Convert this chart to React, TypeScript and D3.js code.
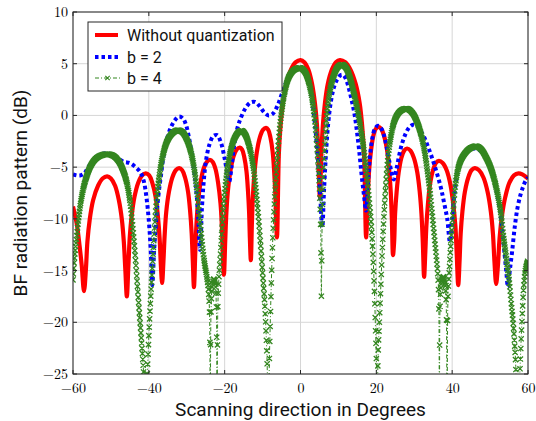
import React, { useEffect, useRef } from "react";
import * as d3 from "d3";

const X_TICKS = [-60, -40, -20, 0, 20, 40, 60];
const Y_TICKS = [-25, -20, -15, -10, -5, 0, 5, 10];
const SERIES_NAMES = ["Without quantization", "b = 2", "b = 4"];
const X_LABEL = "Scanning direction in Degrees";
const Y_LABEL = "BF radiation pattern (dB)";

// Without quantization
const RED: [number, number][] = [
  [-60, -8.8], [-59.0, -10.5], [-58.3, -12.5], [-57.7, -14.5], [-57.1, -17.0],
  [-56.6, -14.9], [-56.2, -12.2], [-55.6, -10.1], [-54.7, -8.2], [-53.4, -6.8], [-52.2, -6.1], [-51.0, -5.9],
  [-50.0, -6.1], [-48.9, -6.8], [-47.9, -8.2], [-47.1, -10.1], [-46.6, -12.2], [-46.2, -14.9], [-45.8, -17.5],
  [-45.4, -14.6], [-45.05, -11.9], [-44.55, -9.8], [-43.8, -7.9], [-42.8, -6.5], [-41.8, -5.8], [-40.8, -5.6],
  [-39.9, -5.8], [-39.1, -6.5], [-38.2, -7.9], [-37.6, -9.8], [-37.15, -11.9], [-36.85, -14.3], [-36.5, -16.2],
  [-36.15, -14.1], [-35.8, -11.4], [-35.4, -9.3], [-34.7, -7.4], [-33.8, -6.0], [-32.9, -5.3], [-32.0, -5.1],
  [-31.2, -5.3], [-30.45, -6.0], [-29.65, -7.4], [-29.1, -9.3], [-28.7, -11.4], [-28.4, -14.1], [-28.1, -16.6],
  [-27.75, -13.3], [-27.45, -10.6], [-27.05, -8.5], [-26.4, -6.6], [-25.6, -5.2], [-24.7, -4.5], [-23.9, -4.3],
  [-23.15, -4.5], [-22.4, -5.2], [-21.7, -6.6], [-21.1, -8.5], [-20.75, -10.6], [-20.5, -13.3], [-20.2, -15.4],
  [-19.85, -12.1], [-19.55, -9.4], [-19.15, -7.3], [-18.5, -5.4], [-17.7, -4.0], [-16.85, -3.3], [-16.0, -3.1],
  [-15.4, -3.3], [-14.85, -4.0], [-14.25, -5.4], [-13.85, -7.3], [-13.55, -9.4], [-13.35, -11.9], [-13.1, -14.0],
  [-12.8, -10.2], [-12.5, -7.5], [-12.1, -5.4], [-11.5, -3.5], [-10.7, -2.1], [-9.9, -1.4], [-9.1, -1.2],
  [-8.5, -1.4], [-7.95, -2.1], [-7.35, -3.5], [-6.95, -5.4], [-6.65, -7.5], [-6.45, -9.8], [-6.2, -11.8],
  [-5.7, -3.65], [-5.25, -0.95], [-4.65, 1.2], [-3.7, 3.05], [-2.5, 4.45], [-1.25, 5.15], [0, 5.35],
  [1.0, 5.15], [2.05, 4.45], [3.05, 3.05], [3.8, 1.2], [4.35, -0.95], [4.7, -3.65], [5.1, -7.9],
  [5.5, -3.65], [5.9, -0.95], [6.45, 1.2], [7.2, 3.05], [8.3, 4.45], [9.35, 5.15], [10.4, 5.35],
  [11.8, 5.15], [13.15, 4.45], [14.55, 3.05], [15.6, 1.2], [16.25, -0.95], [16.75, -3.65], [17.3, -11.8],
  [17.55, -10.1], [17.8, -7.4], [18.1, -5.3], [18.6, -3.4], [19.2, -2.0], [19.85, -1.3], [20.5, -1.1],
  [21.3, -1.3], [22.05, -2.0], [22.85, -3.4], [23.4, -5.3], [23.8, -7.4], [24.1, -10.1], [24.4, -13.5],
  [24.7, -12.2], [24.95, -9.5], [25.35, -7.4], [25.9, -5.5], [26.6, -4.1], [27.35, -3.4], [28.1, -3.2],
  [29.0, -3.4], [29.9, -4.1], [30.8, -5.5], [31.45, -7.4], [31.9, -9.5], [32.25, -12.2], [32.6, -15.6],
  [32.9, -13.4], [33.2, -10.7], [33.6, -8.6], [34.15, -6.7], [34.95, -5.3], [35.7, -4.6], [36.5, -4.4],
  [37.5, -4.6], [38.55, -5.3], [39.55, -6.7], [40.3, -8.6], [40.85, -10.7], [41.2, -13.4], [41.6, -16.4],
  [41.95, -14.1], [42.25, -11.4], [42.7, -9.3], [43.35, -7.4], [44.25, -6.0], [45.1, -5.3], [46.0, -5.1],
  [47.1, -5.3], [48.25, -6.0], [49.35, -7.4], [50.2, -9.3], [50.75, -11.4], [51.15, -14.1], [51.6, -16.3],
  [52.05, -14.6], [52.5, -11.9], [53.1, -9.8], [54.0, -7.9], [55.1, -6.5], [56.3, -5.8], [57.5, -5.6],
  [58.5, -5.7], [59.3, -5.9], [60, -6.1],
];

// b = 2
const BLUE: [number, number][] = [
  [-60, -5.7], [-59, -5.8], [-58, -5.8], [-57, -5.6], [-56, -5.0], [-55, -4.5], [-54, -4.1], [-52.5, -3.75],
  [-51, -3.65], [-49.5, -3.85], [-48, -4.2], [-46.5, -4.5], [-45, -4.6], [-43.5, -5.0], [-42.2, -5.5],
  [-41.3, -6.4], [-40.6, -8.0], [-40.0, -10.2], [-39.5, -13.0], [-39.1, -16.4], [-38.6, -13.0], [-38.0, -9.8],
  [-37.4, -7.5], [-36.8, -5.8], [-36.0, -3.6], [-35.0, -2.0], [-34.0, -1.0], [-33.0, -0.4], [-32.0, -0.1],
  [-31.0, -0.3], [-30.2, -0.9], [-29.5, -2.0], [-28.8, -3.4], [-28.1, -5.2], [-27.5, -7.2], [-27.0, -9.6],
  [-26.5, -13.0], [-26.0, -9.0], [-25.5, -6.3], [-24.9, -4.3], [-24.0, -2.8], [-23.0, -2.0], [-22.0, -1.9],
  [-21.0, -2.6], [-20.2, -3.8], [-19.5, -5.2], [-18.8, -6.4], [-18.2, -5.0], [-17.5, -2.9], [-16.7, -1.3],
  [-15.7, -0.2], [-14.5, 0.7], [-13.2, 1.25], [-12.0, 1.3], [-10.8, 0.9], [-9.6, 0.3], [-8.4, 0.0],
  [-7.2, 0.2], [-6.0, 1.0], [-5.0, 2.0], [-4.0, 3.0], [-3.0, 3.7], [-2.0, 4.2], [-1.0, 4.45], [0, 4.5],
  [1.0, 4.3], [2.0, 3.5], [2.8, 2.2], [3.5, 0.3], [4.1, -2.0], [4.7, -4.8], [5.2, -7.8], [5.75, -10.8],
  [6.2, -7.3], [6.7, -3.8], [7.3, -0.8], [8.0, 1.3], [8.8, 2.7], [9.7, 3.5], [10.6, 3.9], [11.3, 3.9],
  [12.1, 3.4], [12.9, 2.4], [13.6, 1.3], [14.3, 0.0], [14.9, -1.6], [15.5, -3.5], [16.1, -5.7], [16.7, -7.6],
  [17.3, -9.2], [17.8, -6.5], [18.3, -4.0], [18.9, -2.3], [19.6, -1.3], [20.4, -1.0], [21.2, -1.2],
  [22.0, -1.9], [22.7, -3.0], [23.4, -4.4], [24.0, -5.5], [24.6, -6.2], [25.3, -5.2], [26.0, -3.9],
  [26.8, -2.7], [27.8, -1.7], [28.8, -1.1], [29.7, -0.9], [30.6, -1.0], [31.5, -1.4], [32.5, -2.0],
  [33.5, -2.9], [34.5, -3.9], [35.4, -4.9], [36.3, -6.0], [37.1, -7.1], [37.9, -8.5], [38.7, -10.0],
  [39.4, -12.2], [40.0, -10.2], [40.6, -7.6], [41.3, -5.6], [42.2, -4.3], [43.3, -3.6], [44.6, -3.3],
  [46.0, -3.2], [47.4, -3.4], [48.7, -4.0], [49.8, -4.8], [50.8, -5.9], [51.7, -7.3], [52.5, -8.9],
  [53.2, -11.0], [53.8, -13.3], [54.3, -15.2], [54.7, -16.6], [55.2, -15.0], [55.8, -13.2], [56.5, -10.8],
  [57.2, -9.0], [58.0, -7.7], [58.8, -6.8], [59.4, -6.3], [60, -6.0],
];

// b = 4
const GREEN: [number, number][] = [
  [-60, -15.9], [-59.6, -13.8], [-59.1, -12.0], [-58.6, -10.2], [-58.0, -8.5], [-57.3, -7.1], [-56.5, -6.0],
  [-55.5, -5.0], [-54.3, -4.3], [-52.8, -3.9], [-51.0, -3.75], [-49.4, -3.9], [-48.0, -4.4], [-46.8, -5.3],
  [-45.8, -6.5], [-45.0, -8.2], [-44.4, -10.2], [-43.8, -12.6], [-43.2, -15.5], [-42.6, -18.6], [-42.0, -21.5],
  [-41.4, -24.8], [-40.9, -30], [-40.4, -25.0], [-40.0, -21.3], [-39.6, -18.2], [-39.1, -14.8], [-38.6, -11.5],
  [-38.1, -8.8], [-37.4, -6.3], [-36.5, -4.2], [-35.3, -2.6], [-34.0, -1.8], [-32.5, -1.45], [-31.2, -1.6],
  [-30.0, -2.3], [-29.0, -3.4], [-28.1, -5.0], [-27.3, -7.3], [-26.6, -9.9], [-25.9, -12.5], [-25.3, -14.3],
  [-24.7, -15.6], [-24.3, -16.8], [-24.0, -19], [-23.8, -30], [-23.6, -19], [-23.3, -16.6], [-22.9, -15.8],
  [-22.5, -16.3], [-22.2, -18.5], [-22.0, -30], [-21.8, -18.5], [-21.5, -15.6], [-21.1, -13.4], [-20.7, -10.9],
  [-20.2, -8.3], [-19.5, -5.8], [-18.6, -3.7], [-17.5, -2.3], [-16.3, -1.6], [-15.4, -1.5], [-14.5, -1.9],
  [-13.5, -3.0], [-12.6, -4.6], [-11.8, -7.0], [-11.1, -9.8], [-10.5, -12.6], [-10.0, -15.2], [-9.5, -17.8],
  [-9.1, -20.8], [-8.8, -24.0], [-8.5, -30], [-8.2, -23.5], [-7.95, -19.7], [-7.7, -16.2], [-7.4, -12.8],
  [-7.05, -9.7], [-6.6, -6.6], [-6.0, -3.4], [-5.3, -0.6], [-4.3, 2.0], [-3.2, 3.6], [-2.0, 4.3], [-0.8, 4.55],
  [0.2, 4.55], [1.2, 4.2], [2.2, 3.2], [3.1, 1.5], [3.8, -0.6], [4.3, -2.8], [4.8, -5.6], [5.15, -8.5],
  [5.35, -11.5], [5.5, -17.5], [5.7, -10.5], [6.0, -6.0], [6.4, -2.8], [7.0, 0.3], [7.8, 2.5], [8.8, 3.9],
  [9.9, 4.7], [11.0, 4.9], [12.0, 4.6], [13.0, 3.7], [14.0, 2.3], [15.0, 0.6], [15.9, -1.3], [16.8, -3.6],
  [17.6, -6.2], [18.3, -8.9], [18.8, -11.3], [19.2, -14.2], [19.5, -17.0], [19.75, -20.2], [20.0, -23.5],
  [20.2, -30], [20.45, -23.3], [20.8, -20.0], [21.15, -16.8], [21.5, -13.6], [21.9, -10.5], [22.4, -7.3],
  [23.0, -4.4], [23.8, -2.1], [24.8, -0.5], [26.0, 0.3], [27.2, 0.6], [28.4, 0.6], [29.6, 0.2], [30.7, -0.6],
  [31.7, -1.7], [32.6, -3.2], [33.3, -4.9], [34.0, -6.9], [34.6, -9.0], [35.2, -11.3], [35.8, -13.6],
  [36.2, -15.3], [36.45, -17.5], [36.65, -30], [36.9, -17.3], [37.3, -15.9], [37.7, -15.6], [38.1, -16.2],
  [38.4, -17.8], [38.65, -30], [38.9, -17.5], [39.3, -14.6], [39.7, -12.1], [40.2, -9.7], [40.7, -7.3],
  [41.3, -5.6], [42.1, -4.5], [43.1, -3.8], [44.3, -3.3], [45.5, -3.05], [46.5, -3.0], [47.7, -3.3],
  [49.0, -4.1], [50.0, -4.9], [50.9, -5.9], [51.7, -7.1], [52.4, -8.4], [53.0, -9.9], [53.5, -11.6],
  [54.0, -13.0], [54.5, -14.4], [55.1, -16.2], [55.6, -18.2], [56.1, -20.1], [56.45, -22.0], [56.75, -24.0],
  [57.2, -30], [57.9, -24.5], [58.2, -21.6], [58.55, -18.8], [58.9, -16.4], [59.4, -14.8], [60, -14.0],
];

const RED_C = "#ff0000";
const BLUE_C = "#0000ff";
const GREEN_C = "#33861f";
const SERIF = "'Latin Modern Roman', 'CMU Serif', 'Liberation Serif', serif";
const SANS = "Roboto, 'Noto Sans', sans-serif";

const W = 536;
const H = 421;
const PL = 73, PR = 528, PT = 12, PB = 374;

export default function App() {
  const ref = useRef<SVGSVGElement>(null);

  useEffect(() => {
    const svg = d3.select(ref.current);
    svg.selectAll("*").remove();
    const x = d3.scaleLinear().domain([-60, 60]).range([PL, PR]);
    const y = d3.scaleLinear().domain([-25, 10]).range([PB, PT]);

    svg.append("rect").attr("width", W).attr("height", H).attr("fill", "#fff");

    const defs = svg.append("defs");
    defs.append("clipPath").attr("id", "plotclip")
      .append("rect").attr("x", PL).attr("y", PT).attr("width", PR - PL).attr("height", PB - PT);

    // grid
    const grid = svg.append("g").attr("stroke", "#d6d6d6").attr("stroke-width", 1);
    X_TICKS.forEach((t) => grid.append("line").attr("x1", x(t)).attr("x2", x(t)).attr("y1", PT).attr("y2", PB));
    Y_TICKS.forEach((t) => grid.append("line").attr("x1", PL).attr("x2", PR).attr("y1", y(t)).attr("y2", y(t)));

    const plot = svg.append("g").attr("clip-path", "url(#plotclip)");
    const line = d3.line<[number, number]>()
      .x((d) => x(d[0])).y((d) => y(d[1]))
      .curve(d3.curveCatmullRom.alpha(0.5));

    plot.append("path").attr("d", line(RED)).attr("fill", "none")
      .attr("stroke", RED_C).attr("stroke-width", 4.2).attr("stroke-linejoin", "round");
    plot.append("path").attr("d", line(BLUE)).attr("fill", "none")
      .attr("stroke", BLUE_C).attr("stroke-width", 4).attr("stroke-dasharray", "3.5 3");
    const gp = plot.append("path").attr("d", line(GREEN)).attr("fill", "none")
      .attr("stroke", GREEN_C).attr("stroke-width", 1).attr("stroke-dasharray", "4 2 1 2");

    // markers at every sample step along the green curve
    const node = gp.node() as SVGPathElement;
    const L = node.getTotalLength();
    const stepPx = x(0.1) - x(0);
    let next = x(-60);
    const s = 2.6;
    let md = "";
    for (let l = 0; l <= L; l += 0.25) {
      const p = node.getPointAtLength(l);
      while (p.x >= next - 1e-6) {
        md += `M${p.x - s},${p.y - s}L${p.x + s},${p.y + s}M${p.x - s},${p.y + s}L${p.x + s},${p.y - s}`;
        next += stepPx;
      }
    }
    plot.append("path").attr("d", md).attr("fill", "none")
      .attr("stroke", GREEN_C).attr("stroke-width", 1.3);

    // frame
    svg.append("rect").attr("x", PL).attr("y", PT).attr("width", PR - PL).attr("height", PB - PT)
      .attr("fill", "none").attr("stroke", "#262626").attr("stroke-width", 1);
    const tk = svg.append("g").attr("stroke", "#262626").attr("stroke-width", 1);
    X_TICKS.forEach((t) => {
      tk.append("line").attr("x1", x(t)).attr("x2", x(t)).attr("y1", PB).attr("y2", PB - 4);
      tk.append("line").attr("x1", x(t)).attr("x2", x(t)).attr("y1", PT).attr("y2", PT + 4);
    });
    Y_TICKS.forEach((t) => {
      tk.append("line").attr("x1", PL).attr("x2", PL + 4).attr("y1", y(t)).attr("y2", y(t));
      tk.append("line").attr("x1", PR).attr("x2", PR - 4).attr("y1", y(t)).attr("y2", y(t));
    });

    // axes labels
    const gx = svg.append("g").attr("transform", `translate(0,${PB})`)
      .call(d3.axisBottom(x).tickValues(X_TICKS).tickSize(0).tickPadding(9));
    gx.select(".domain").remove();
    gx.selectAll("text").attr("font-family", SERIF).attr("font-size", 14).attr("fill", "#000");
    const gy = svg.append("g").attr("transform", `translate(${PL},0)`)
      .call(d3.axisLeft(y).tickValues(Y_TICKS).tickSize(0).tickPadding(5));
    gy.select(".domain").remove();
    gy.selectAll("text").attr("font-family", SERIF).attr("font-size", 14).attr("fill", "#000");

    svg.append("text").attr("x", (PL + PR) / 2).attr("y", 416).attr("text-anchor", "middle")
      .attr("font-family", SANS).attr("font-size", 19).attr("fill", "#111").text(X_LABEL);
    svg.append("text").attr("transform", `translate(26.5,${(PT + PB) / 2}) rotate(-90)`)
      .attr("text-anchor", "middle").attr("font-family", SANS).attr("font-size", 19)
      .attr("fill", "#111").text(Y_LABEL);

    // legend
    const lg = svg.append("g");
    lg.append("rect").attr("x", 88).attr("y", 22).attr("width", 194).attr("height", 69)
      .attr("fill", "#fff").attr("stroke", "#262626").attr("stroke-width", 1);
    const rows = [35, 57, 78];
    lg.append("line").attr("x1", 95).attr("x2", 118).attr("y1", rows[0]).attr("y2", rows[0])
      .attr("stroke", RED_C).attr("stroke-width", 4);
    lg.append("line").attr("x1", 95).attr("x2", 119).attr("y1", rows[1]).attr("y2", rows[1])
      .attr("stroke", BLUE_C).attr("stroke-width", 4).attr("stroke-dasharray", "3.5 3");
    lg.append("line").attr("x1", 95).attr("x2", 121).attr("y1", rows[2]).attr("y2", rows[2])
      .attr("stroke", GREEN_C).attr("stroke-width", 1).attr("stroke-dasharray", "4 2 1 2");
    const mx = 107.5, my = rows[2];
    const ls = 2.2;
    lg.append("path")
      .attr("d", `M${mx - ls},${my - ls}L${mx + ls},${my + ls}M${mx - ls},${my + ls}L${mx + ls},${my - ls}`)
      .attr("stroke", GREEN_C).attr("stroke-width", 1.1).attr("fill", "none");
    SERIES_NAMES.forEach((n, i) => {
      lg.append("text").attr("x", 127).attr("y", rows[i] + 5.5).attr("font-family", SANS)
        .attr("font-size", 16).attr("fill", "#111").text(n);
    });
  }, []);

  return (
    <svg ref={ref} width={W} height={H}
      style={{ position: "absolute", left: 0, top: 0, display: "block" }} />
  );
}
